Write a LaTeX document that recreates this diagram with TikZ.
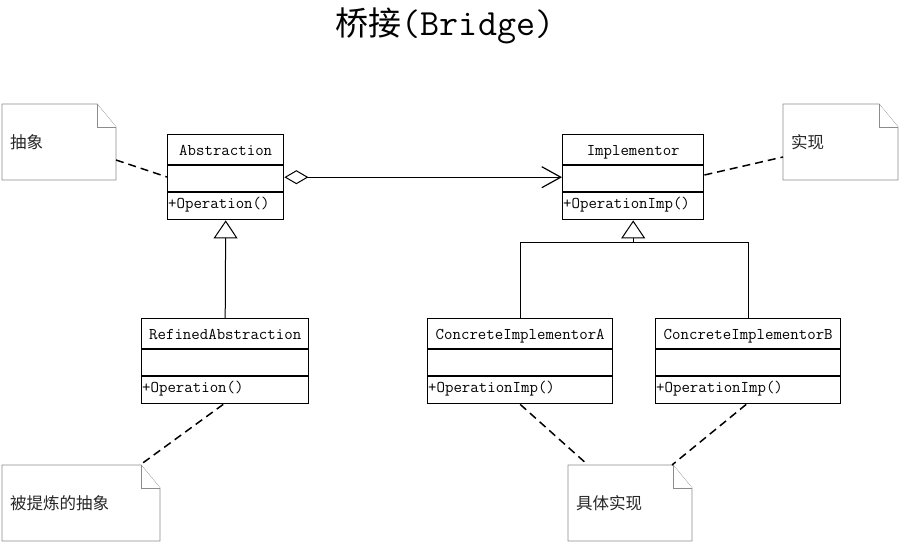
\documentclass[tikz,border=0pt]{standalone}
\usepackage{fontspec}
\newfontfamily\cjk{Noto Sans CJK SC}
\usetikzlibrary{arrows.meta}
\definecolor{notegray}{HTML}{8C8C8C}
\tikzset{
  cls/.style={draw=black, line width=1.4pt, fill=white, inner sep=0pt},
  divider/.style={draw=black, line width=1.1pt},
  txt/.style={font=\ttfamily\fontsize{16.4}{18}\selectfont, inner sep=1pt},
  notebox/.style={draw=notegray, line width=0.8pt, fill=white},
  notetxt/.style={font=\cjk\fontsize{16.5}{18}\selectfont, text=black!85, inner sep=0pt, anchor=west},
  dashlink/.style={draw=black, line width=1.5pt, dash pattern=on 8pt off 5pt},
  link/.style={draw=black, line width=1pt},
}
\newcommand\umlclass[6]{%
  \node[cls, anchor=north west, minimum width=#4pt, minimum height=85pt] (#1) at (#2,#3) {};
  \draw[divider] ([yshift=-31pt]#1.north west) -- ([yshift=-31pt]#1.north east);
  \draw[divider] ([yshift=-58pt]#1.north west) -- ([yshift=-58pt]#1.north east);
  \node[txt, anchor=base] at ([yshift=-21pt]#1.north) {#5};
  \node[txt, anchor=base west] at ([yshift=-74pt]#1.north west) {#6};
}
\newcommand\umlnote[6]{%
  \node[inner sep=0pt, outer sep=0pt, anchor=north west, minimum width=#4pt, minimum height=#5pt] (#1) at (#2,#3) {};
  \draw[notebox] (#1.north west) -- ([xshift=-19pt]#1.north east) -- ([yshift=-23pt]#1.north east) -- (#1.south east) -- (#1.south west) -- cycle;
  \draw[notebox] ([xshift=-19pt]#1.north east) |- ([yshift=-23pt]#1.north east);
  \node[notetxt] at ([xshift=8pt,yshift=-38pt]#1.north west) {#6};
}
\begin{document}
\begin{tikzpicture}[x=1pt, y=-1pt]
\useasboundingbox (0,0) rectangle (900,542);

% title
\node[font=\ttfamily\fontsize{37}{40}\selectfont, inner sep=0pt] (title) at (445,26) {{\cjk\fontsize{33}{36}\selectfont 桥接}(Bridge)};

% classes
\umlclass{abs}{167}{134}{116}{Abstraction}{+Operation()}
\umlclass{imp}{562}{134}{141}{Implementor}{+OperationImp()}
\umlclass{ref}{141}{318}{167}{RefinedAbstraction}{+Operation()}
\umlclass{cia}{427}{318}{185}{ConcreteImplementorA}{+OperationImp()}
\umlclass{cib}{655}{318}{185}{ConcreteImplementorB}{+OperationImp()}

% notes
\umlnote{n1}{2}{104}{114}{76}{抽象}
\umlnote{n2}{783}{104}{115}{76}{实现}
\umlnote{n3}{2}{465}{158}{76}{被提炼的抽象}
\umlnote{n4}{568}{465}{124}{76}{具体实现}

% aggregation
\draw[link, {Diamond[open, length=24pt, width=14pt, line width=1pt]}-{Straight Barb[length=19pt, width=21pt, line width=1.2pt]}] (abs.east) -- (imp.west);

% generalisation
\draw[link, -{Triangle[open, length=18pt, width=24pt, line width=1pt, fill=white]}] (ref.north) -- (abs.south);
\coordinate (junc) at ([yshift=-22pt]imp.south);
\draw[link] (cib.north) |- (junc);
\draw[link, -{Triangle[open, length=18pt, width=24pt, line width=1pt, fill=white]}] (cia.north) |- (junc) -- (imp.south);

% note links
\draw[dashlink] ([yshift=-56pt]n1.north east) -- ([yshift=-43pt]abs.north west);
\draw[dashlink] ([yshift=-41pt]imp.north east) -- ([yshift=-53pt]n2.north west);
\draw[dashlink] ([xshift=-2pt]ref.south) -- ([xshift=-20pt]n3.north east);
\draw[dashlink] (cia.south) -- ([xshift=20pt]n4.north west);
\draw[dashlink] ([xshift=-2pt]cib.south) -- ([xshift=-20pt]n4.north east);
\end{tikzpicture}
\end{document}
